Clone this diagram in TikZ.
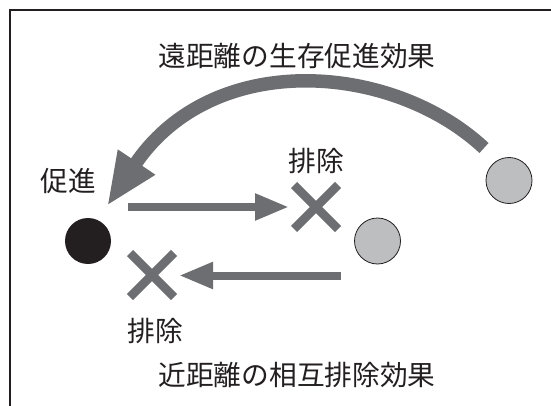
\documentclass[tikz,border=0pt]{standalone}
\usepackage{fontspec}
\newfontfamily\jp{Noto Sans CJK JP}
\usetikzlibrary{arrows.meta}
\definecolor{arrowgray}{HTML}{6D6E71}
\definecolor{circgray}{HTML}{BCBEC0}
\definecolor{ink}{HTML}{231F20}
\begin{document}
\begin{tikzpicture}[x=1pt,y=1pt,
  lbl/.style={font=\jp\fontsize{27.7}{30}\selectfont, text=ink, inner sep=0pt},
  arr/.style={draw=arrowgray, line width=8pt, -{Triangle[length=34pt,width=25pt]}},
  bigarr/.style={draw=arrowgray, line width=13.5pt, -{Triangle[length=53pt,width=41pt]}},
  xstroke/.style={draw=arrowgray, line width=8.5pt},
  blackdot/.style={circle, minimum size=46pt, inner sep=0pt, fill=ink},
  graydot/.style={circle, minimum size=46pt, inner sep=0pt, fill=circgray, draw=ink, line width=0.8pt},
]
\useasboundingbox (0,0) rectangle (551,405);
\clip (0,0) rectangle (551,405);
\fill[white] (0,0) rectangle (551,405);
% frame
\draw[ink, line width=1.6pt] (10,-10) -- (10,395) -- (561,395);
% circles
\node[blackdot] (A) at (88,164) {};
\node[graydot] (B) at (377.5,164) {};
\node[graydot] (C) at (509,224.5) {};
% X marks
\coordinate (X1) at (316,198);
\coordinate (X2) at (152,130);
\draw[xstroke, shift={(X1)}] (-22,-22) -- (22,22) (-22,22) -- (22,-22);
\draw[xstroke, shift={(X2)}] (-22,-22) -- (22,22) (-22,22) -- (22,-22);
% straight arrows
\coordinate (a1s) at (127.7,198);
\coordinate (a1e) at (289,198);
\draw[arr] (a1s) -- (a1e);
\coordinate (a2s) at (341,129.5);
\coordinate (a2e) at (179,129.5);
\draw[arr] (a2s) -- (a2e);
% big curved arrow
\coordinate (bigS) at (484,257);
\coordinate (bigE) at (107,199);
\draw[bigarr] (bigS) .. controls (392.6,342.3) and (213.2,356.5) .. (bigE);
% labels
\node[lbl] (t1) at (297,349) {遠距離の生存促進効果};
\node[lbl] (t2) at (297,30) {近距離の相互排除効果};
\node[lbl] (l1) at (316.5,244) {排除};
\node[lbl] (l2) at (155,74) {排除};
\node[lbl] (l3) at (68,224) {促進};
\end{tikzpicture}
\end{document}
